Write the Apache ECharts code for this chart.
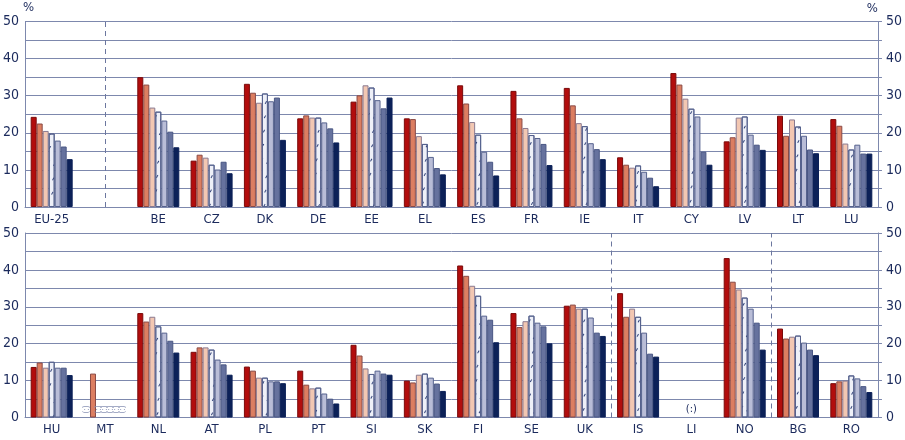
<!DOCTYPE html>
<html>
<head>
<meta charset="utf-8">
<script src="https://cdn.jsdelivr.net/npm/echarts@6/dist/echarts.min.js"></script>
<style>html,body{margin:0;padding:0;background:#fff}#c{width:905px;height:440px}</style>
</head>
<body>
<div id="c"></div>
<script>
var NA = '(:)';
var categoriesTop = ['EU-25', '', 'BE', 'CZ', 'DK', 'DE', 'EE', 'EL', 'ES', 'FR', 'IE', 'IT', 'CY', 'LV', 'LT', 'LU'];
var categoriesBottom = ['HU', 'MT', 'NL', 'AT', 'PL', 'PT', 'SI', 'SK', 'FI', 'SE', 'UK', 'IS', 'LI', 'NO', 'BG', 'RO'];
var yTicks = [0, 10, 20, 30, 40, 50];

var top1 = [24.3, null, 35.0, 12.5, 33.2, 23.9, 28.4, 23.9, 32.8, 31.3, 32.1, 13.4, 36.1, 17.7, 24.6, 23.7];
var top2 = [22.5, null, 33.0, 14.1, 30.8, 24.7, 30.1, 23.7, 27.9, 23.9, 27.4, 11.4, 33.0, 18.8, 19.2, 21.9];
var top3 = [20.5, null, 26.8, 13.3, 28.1, 24.1, 32.8, 19.1, 22.9, 21.3, 22.6, 10.6, 29.2, 24.1, 23.6, 17.1];
var top4 = [19.8, null, 25.7, 11.4, 30.6, 24.1, 32.2, 17.0, 19.5, 19.4, 21.8, 11.2, 26.5, 24.4, 21.7, 15.5];
var top5 = [17.9, null, 23.3, 10.1, 28.5, 22.8, 28.8, 13.5, 14.9, 18.6, 17.2, 9.5, 24.4, 19.5, 19.2, 16.8];
var top6 = [16.3, null, 20.3, 12.2, 29.5, 21.2, 26.6, 10.5, 12.2, 17.0, 15.6, 7.9, 14.9, 16.8, 15.5, 14.4];
var top7 = [12.9, null, 16.1, 9.1, 18.1, 17.4, 29.5, 8.8, 8.5, 11.3, 12.9, 5.6, 11.4, 15.4, 14.5, 14.4];

var bot1 = [13.7, NA, 28.3, 17.8, 13.8, 12.7, 19.7, 10.0, 41.2, 28.3, 30.3, 33.7, null, 43.2, 24.1, 9.3];
var bot2 = [14.9, 11.9, 26.0, 19.0, 12.7, 8.9, 16.8, 9.5, 38.4, 24.5, 30.6, 27.3, null, 36.8, 21.4, 9.8];
var bot3 = [13.5, NA, 27.3, 19.0, 10.8, 7.9, 13.3, 11.6, 35.7, 26.1, 29.5, 29.5, null, 34.7, 21.9, 10.0];
var bot4 = [15.1, NA, 24.7, 18.4, 10.8, 8.1, 11.8, 11.9, 33.0, 27.6, 29.5, 27.3, NA, 32.5, 22.2, 11.4];
var bot5 = [13.5, NA, 23.0, 15.7, 9.8, 6.5, 12.7, 10.8, 27.6, 25.7, 27.1, 23.0, null, 29.5, 20.3, 10.6];
var bot6 = [13.5, NA, 20.8, 14.4, 9.8, 5.1, 11.9, 9.2, 26.5, 24.7, 23.0, 17.3, null, 25.7, 18.4, 8.5];
var bot7 = [11.5, NA, 17.6, 11.6, 9.3, 3.8, 11.6, 7.2, 20.4, 20.1, 22.1, 16.5, null, 18.4, 16.9, 6.9];

var dividersTop = [1.5];
var dividersBottom = [11, 14];

var topSeries = [top1, top2, top3, top4, top5, top6, top7];
var botSeries = [bot1, bot2, bot3, bot4, bot5, bot6, bot7];

var fills = ['#b20d0d', '#dc7e61', '#f2c7b2', '#eef0f8', '#b9bdd7', '#66729e', '#0c2158'];
var borders = ['#7a0a0a', '#8a4a45', '#8a7a90', '#56628e', '#56628e', '#4a5784', '#0c2158'];
var textColor = '#1b2a5c';
var gridColor = '#7d88ad';
var font = "'Liberation Sans Narrow', 'DejaVu Sans Condensed', 'Roboto Condensed', sans-serif";

function mapData(arr) {
  return arr.map(function (v, i) {
    if (v === NA) {
      var vertical = categoriesBottom[i] === 'MT';
      return {
        value: 0,
        itemStyle: { borderWidth: 0 },
        label: {
          show: true, formatter: NA, position: 'top',
          distance: vertical ? 8 : 3,
          rotate: vertical ? 90 : 0,
          align: 'center', verticalAlign: vertical ? 'middle' : 'bottom',
          fontSize: vertical ? 8 : 11, color: vertical ? '#8a93b5' : textColor,
          fontFamily: font
        }
      };
    }
    return v;
  });
}

var series = [];
for (var s = 0; s < 7; s++) {
  var itemStyle = { color: fills[s], borderColor: borders[s], borderWidth: 1 };
  if (s === 3) {
    itemStyle.decal = {
      symbol: 'rect', symbolSize: 1, color: '#34447a',
      dashArrayX: [[1, 5]], dashArrayY: [2.5, 10], rotation: 0.5
    };
  }
  series.push({
    type: 'bar', xAxisIndex: 0, yAxisIndex: 0, data: mapData(topSeries[s]),
    barWidth: 6, barGap: '0%', itemStyle: itemStyle, silent: true, animation: false
  });
  series.push({
    type: 'bar', xAxisIndex: 1, yAxisIndex: 2, data: mapData(botSeries[s]),
    barWidth: 6, barGap: '0%', itemStyle: itemStyle, silent: true, animation: false
  });
}
function divider(xi, yi, list) {
  return {
    type: 'line', xAxisIndex: xi, yAxisIndex: yi, data: [], silent: true, animation: false,
    markLine: {
      symbol: 'none', silent: true, animation: false, label: { show: false },
      lineStyle: { color: '#6c779f', type: [5, 4], width: 1 },
      data: list.map(function (x) { return { xAxis: x }; })
    }
  };
}
series.push(divider(2, 0, dividersTop));
series.push(divider(3, 2, dividersBottom));

function yAxis(gridIndex, pos, name) {
  return {
    type: 'value', gridIndex: gridIndex, position: pos, min: 0, max: 50, interval: 5,
    name: name || '', nameLocation: 'end', nameGap: 6,
    nameTextStyle: { color: textColor, fontSize: 13, fontFamily: font, align: pos === 'left' ? 'left' : 'right', padding: pos === 'left' ? [0, 0, 0, -2] : [0, 0, 0, 0] },
    axisLine: { show: true, lineStyle: { color: gridColor, width: 1 } },
    axisTick: { show: pos === 'right', length: 4, lineStyle: { color: gridColor } },
    axisLabel: {
      color: textColor, fontSize: 14, fontFamily: font, margin: pos === 'left' ? 6 : 8,
      formatter: function (v) { return yTicks.indexOf(v) >= 0 ? String(v) : ''; }
    },
    splitLine: { show: pos === 'left', lineStyle: { color: gridColor, width: 1 } }
  };
}
function catAxis(gridIndex, cats) {
  return {
    type: 'category', gridIndex: gridIndex, data: cats, boundaryGap: true,
    axisLine: { show: true, lineStyle: { color: gridColor } },
    axisTick: { show: false },
    axisLabel: { color: textColor, fontSize: 13, fontFamily: font, margin: 6, interval: 0 }
  };
}
function hiddenX(gridIndex) {
  return { type: 'value', gridIndex: gridIndex, min: 0, max: 16, show: false };
}

var option = {
  animation: false,
  grid: [
    { left: 20, right: 23, top: 21.5, height: 185.5 },
    { left: 20, right: 23, top: 233, height: 184.5 }
  ],
  xAxis: [catAxis(0, categoriesTop), catAxis(1, categoriesBottom), hiddenX(0), hiddenX(1)],
  yAxis: [yAxis(0, 'left', '%'), yAxis(0, 'right', '%'), yAxis(1, 'left'), yAxis(1, 'right')],
  series: series
};
var chart = echarts.init(document.getElementById('c'), null, { renderer: 'canvas' });
chart.setOption(option);
</script>
</body>
</html>
